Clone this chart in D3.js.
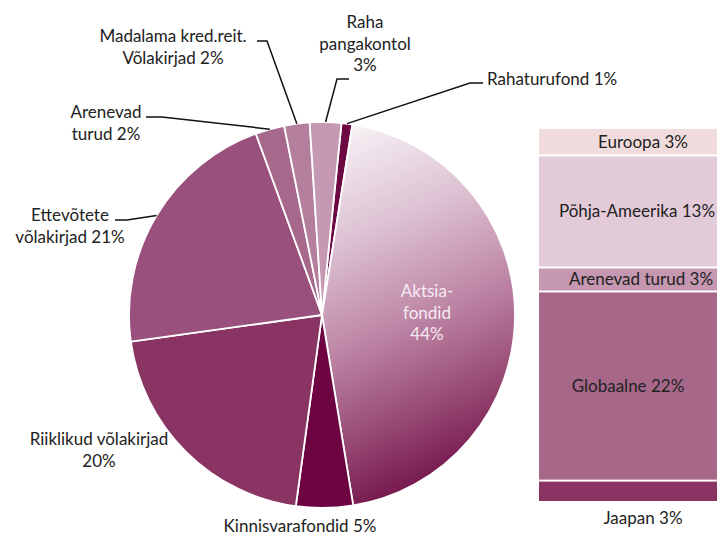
<!DOCTYPE html>
<html>
<head>
<meta charset="utf-8">
<script src="https://cdn.jsdelivr.net/npm/d3@7"></script>
<style>
  html, body { margin: 0; padding: 0; background: #fff; }
  svg { display: block; font-family: Lato, 'Open Sans', sans-serif; }
</style>
</head>
<body>
<svg id="chart" width="717" height="536"></svg>
<script>
// pie: portfolio split (clockwise from top)
const pieNames = ['Rahaturufond', 'Aktsiafondid', 'Kinnisvarafondid', 'Riiklikud võlakirjad',
  'Ettevõtete võlakirjad', 'Arenevad turud', 'Madalama kred.reit. Võlakirjad', 'Raha pangakontol']
const pieShares = [0.9, 44.4, 4.7, 20.4, 21.4, 2.4, 2.1, 2.6]
const pieLabelLines = [
  ['Rahaturufond 1%'],
  ['Aktsia-', 'fondid', '44%'],
  ['Kinnisvarafondid 5%'],
  ['Riiklikud võlakirjad', '20%'],
  ['Ettevõtete', 'võlakirjad 21%'],
  ['Arenevad', 'turud 2%'],
  ['Madalama kred.reit.', 'Võlakirjad 2%'],
  ['Raha', 'pangakontol', '3%']
]
const pieColors = ['#6d0842', 'url(#equityGrad)', '#6d0441', '#8a3464', '#99507c', '#a6688b', '#b47e9d', '#c599b2']

// stacked bar: equity funds by region (bottom to top)
const regionNames = ['Jaapan', 'Globaalne', 'Arenevad turud', 'Põhja-Ameerika', 'Euroopa']
const regionShares = [2.5, 22.1, 2.8, 13.1, 3.2]
const regionLabels = ['Jaapan 3%', 'Globaalne 22%', 'Arenevad turud 3%', 'Põhja-Ameerika 13%', 'Euroopa 3%']
const regionColors = ['#8b3464', '#a66789', '#c597b0', '#e2cad8', '#f0dcdc']

const svg = d3.select('#chart')
const cx = 322, cy = 315, radius = 193

// label placement (text anchor point + leader elbow), same order as pie
const labelLayout = [
  { x: 487, y: 85, anchor: 'start', leader: [[483, 83], [470, 83]] },
  { x: 427, y: 297, anchor: 'middle', inside: true },
  { x: 300, y: 532, anchor: 'middle' },
  { x: 99, y: 445, anchor: 'middle' },
  { x: 70, y: 221, anchor: 'middle', leader: [[115, 220], [127, 220]] },
  { x: 106, y: 118, anchor: 'middle', leader: [[146, 117], [162, 117]] },
  { x: 173, y: 42, anchor: 'middle', leader: [[257, 41], [267, 41]] },
  { x: 365, y: 28, anchor: 'middle', leader: [[349, 79], [337, 79]] }
]

// ------------------
// Gradient for the equity slice (coords relative to pie centre)
// ------------------
const defs = svg.append('defs')
const grad = defs.append('linearGradient')
  .attr('id', 'equityGrad')
  .attr('gradientUnits', 'userSpaceOnUse')
  .attr('x1', 23).attr('y1', -190)
  .attr('x2', 173).attr('y2', 155)
grad.append('stop').attr('offset', 0).attr('stop-color', '#f7f3f6')
grad.append('stop').attr('offset', 0.28).attr('stop-color', '#ddc2d3')
grad.append('stop').attr('offset', 0.55).attr('stop-color', '#bd85a5')
grad.append('stop').attr('offset', 0.8).attr('stop-color', '#93446f')
grad.append('stop').attr('offset', 1).attr('stop-color', '#6e0c46')

// ------------------
// Pie
// ------------------
const rad = Math.PI / 180
const pie = d3.pie().sort(null)
  .startAngle(5.8 * rad)
  .endAngle(365.8 * rad)
const arcs = pie(pieShares)
const arc = d3.arc().innerRadius(0).outerRadius(radius)

const pieG = svg.append('g')
  .attr('transform', `translate(${cx},${cy})`)

pieG.selectAll('path')
  .data(arcs)
  .enter()
  .append('path')
  .attr('d', arc)
  .attr('fill', (d, i) => pieColors[i])
  .attr('stroke', '#fff')
  .attr('stroke-width', 1.8)
  .attr('stroke-linejoin', 'round')

// leader lines
arcs.forEach((d, i) => {
  const lay = labelLayout[i]
  if (!lay.leader) return
  const mid = (d.startAngle + d.endAngle) / 2
  const edge = [cx + Math.sin(mid) * radius, cy - Math.cos(mid) * radius]
  const pts = [lay.leader[0], lay.leader[1], edge]
  svg.append('path')
    .attr('d', d3.line()(pts))
    .attr('fill', 'none')
    .attr('stroke', '#111')
    .attr('stroke-width', 1.5)
})

// labels
arcs.forEach((d, i) => {
  const lay = labelLayout[i]
  const t = svg.append('text')
    .attr('x', lay.x)
    .attr('y', lay.y)
    .attr('text-anchor', lay.anchor)
    .attr('font-size', 17)
    .attr('fill', lay.inside ? '#f6ebf2' : '#222')
  pieLabelLines[i].forEach((line, j) => {
    t.append('tspan')
      .attr('x', lay.x)
      .attr('dy', j === 0 ? 0 : 21.5)
      .text(line)
  })
})

// ------------------
// Stacked bar
// ------------------
const barX = 539, barW = 210
const stackEnds = d3.cumsum(regionShares)
const y = d3.scaleLinear()
  .domain([0, d3.sum(regionShares)])
  .range([503, 129])

const barG = svg.append('g')
barG.selectAll('rect')
  .data(regionShares)
  .enter()
  .append('rect')
  .attr('x', barX)
  .attr('y', (d, i) => y(stackEnds[i]))
  .attr('width', barW)
  .attr('height', (d, i) => y(stackEnds[i] - d) - y(stackEnds[i]) - 2)
  .attr('fill', (d, i) => regionColors[i])

const labelDx = [0, -15, -2, -6, 0]
barG.selectAll('text')
  .data(regionShares)
  .enter()
  .append('text')
  .attr('x', (d, i) => 643 + labelDx[i])
  .attr('y', (d, i) => i === 0 ? 524 : (y(stackEnds[i]) + y(stackEnds[i] - d) - 2) / 2 + 6)
  .attr('text-anchor', 'middle')
  .attr('font-size', 17)
  .attr('fill', '#222')
  .text((d, i) => regionLabels[i])
</script>
</body>
</html>
